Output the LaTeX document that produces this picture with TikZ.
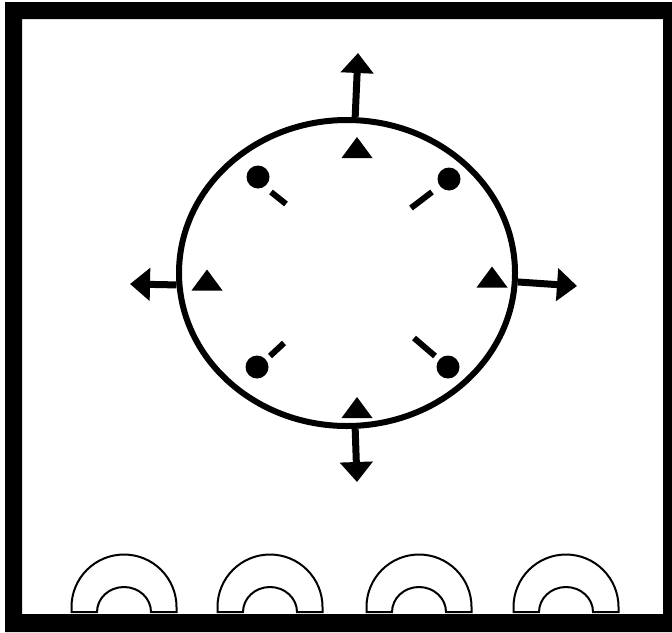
\documentclass[tikz,border=0pt]{standalone}
\usetikzlibrary{arrows.meta,shapes.geometric}

\begin{document}
\begin{tikzpicture}[
  x=0.5pt, y=-0.5pt,
  room/.style={draw, ellipse, line width=3pt, minimum width=168pt, minimum height=153pt, inner sep=0pt},
  lamp/.style={circle, fill, minimum size=11.5pt, inner sep=0pt},
  beam/.style={line width=3pt},
  exit/.style={line width=3.5pt, -{Triangle[length=10pt, width=16pt]}},
  sign/.pic={\fill (-15.5,10.5) -- (15.5,10.5) -- (0,-10.5) -- cycle;},
  halfring/.pic={\draw[line width=1pt, fill=white] (-52.5,0) -- (-52.5,-5)
      arc[start angle=180, end angle=360, x radius=52.5, y radius=52.5] -- (52.5,0) -- (27,0)
      arc[start angle=0, end angle=-180, x radius=27, y radius=25] -- cycle;}
]
\useasboundingbox (0,0) rectangle (672,632);
% frame
\fill[even odd rule] (5,2) rectangle (672,632) (22,19) rectangle (663,614);

\node[room] (room) at (347,273) {};

% markers inside the room
\pic at (357,147.5) {sign};
\pic at (207,280) {sign};
\pic at (492,277) {sign};
\pic at (357,407.5) {sign};

% lamps
\node[lamp] (l1) at (258,177) {};
\node[lamp] (l2) at (449,179) {};
\node[lamp] (l3) at (257,367) {};
\node[lamp] (l4) at (448,367) {};
\draw[beam] (271,192) -- (286,204);
\draw[beam] (411,208) -- (432,192);
\draw[beam] (270,356) -- (284,343);
\draw[beam] (414,338) -- (435,356);

% exits
\coordinate (up) at (358,53);
\coordinate (lt) at (130,284);
\coordinate (rt) at (577,286);
\coordinate (dn) at (357,482);
\draw[exit] (room.87.5) -- (up);
\draw[exit] (room.184) -- (lt);
\draw[exit] (room.-3.7) -- (rt);
\draw[exit] (room.-87) -- (dn);

% seats
\foreach \x in {124,270,419,566}
  \pic at (\x,612) {halfring};
\end{tikzpicture}
\end{document}
